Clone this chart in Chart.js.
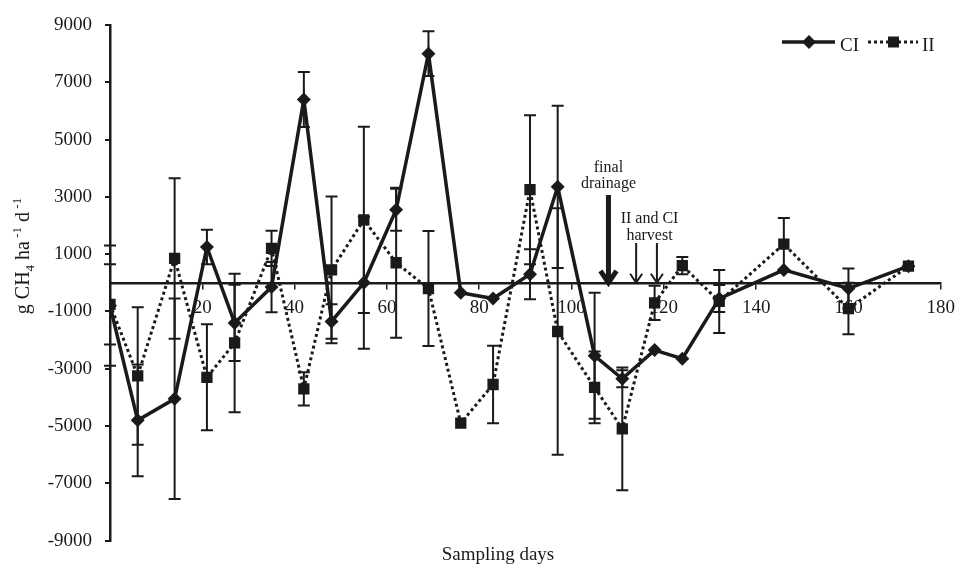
<!DOCTYPE html>
<html>
<head>
<meta charset="utf-8">
<title>CH4 flux</title>
<script src="https://cdn.jsdelivr.net/npm/chart.js@4.4.1/dist/chart.umd.min.js"></script>
<style>
  html, body { margin: 0; padding: 0; background: #fff; }
  canvas { display: block; }
</style>
</head>
<body>
<canvas id="flux" width="964" height="565"></canvas>
<script>
// sampling days
const days = [0, 6, 14, 21, 27, 35, 42, 48, 55, 62, 69, 76, 83, 91, 97, 105, 111, 118, 124, 132, 146, 160, 173];

// CI: mean flux and error (g CH4 ha-1 d-1)
const ciFlux = [-800, -4800, -4050, 1250, -1400, -150, 6400, -1350, 0, 2550, 8000, -350, -550, 300, 3350, -2550, -3350, -2350, -2650, -550, 450, -200, 580];
const ciErr = [2100, 1950, 3500, 600, 1330, 875, 960, 600, 2300, 730, 780, 0, 0, 870, 2830, 2200, 300, 0, 0, 470, 0, 700, 0];

// II: mean flux and error
const iiFlux = [-750, -3250, 850, -3300, -2100, 1200, -3700, 450, 2200, 700, -200, -4900, -3550, 3250, -1700, -3650, -5100, -700, 600, -650, 1350, -900, 580];
const iiErr = [1400, 2400, 2800, 1850, 2420, 615, 580, 2560, 3250, 2620, 2010, 0, 1350, 2600, 4300, 1250, 2140, 600, 300, 1100, 910, 900, 0];

const xTicks = [20, 40, 60, 80, 100, 120, 140, 160, 180];
const yTicks = [-9000, -7000, -5000, -3000, -1000, 1000, 3000, 5000, 7000, 9000];

// field events marked with arrows
const drainageDay = 108;
const harvestDays = [114, 118.5];

const FONT = "'Liberation Serif', 'Times New Roman', serif";
const INK = '#1a1a1a';

function points(values) {
  return days.map((d, i) => ({x: d, y: values[i]}));
}

// vertical error bars with caps, under the lines and markers
const errorBars = {
  id: 'errorBars',
  beforeDatasetsDraw(chart) {
    const {ctx, scales: {x, y}} = chart;
    ctx.save();
    ctx.strokeStyle = INK;
    ctx.lineWidth = 2;
    [[ciFlux, ciErr], [iiFlux, iiErr]].forEach(([vals, errs]) => {
      days.forEach((d, i) => {
        if (!errs[i]) return;
        const px = x.getPixelForValue(d);
        const top = y.getPixelForValue(vals[i] + errs[i]);
        const bot = y.getPixelForValue(vals[i] - errs[i]);
        ctx.beginPath();
        ctx.moveTo(px, top); ctx.lineTo(px, bot);
        ctx.moveTo(px - 6, top); ctx.lineTo(px + 6, top);
        ctx.moveTo(px - 6, bot); ctx.lineTo(px + 6, bot);
        ctx.stroke();
      });
    });
    ctx.restore();
  }
};

function arrow(ctx, x, yTop, yTip, width, head) {
  ctx.lineWidth = width;
  ctx.beginPath();
  ctx.moveTo(x, yTop);
  ctx.lineTo(x, yTip - 2);
  ctx.moveTo(x - head, yTip - head * 1.5);
  ctx.lineTo(x, yTip);
  ctx.lineTo(x + head, yTip - head * 1.5);
  ctx.stroke();
}

// axis titles, legend and event labels
const decorations = {
  id: 'decorations',
  afterDraw(chart) {
    const {ctx, scales: {x, y}} = chart;
    ctx.save();
    ctx.fillStyle = INK;
    ctx.strokeStyle = INK;
    ctx.lineCap = 'butt';

    // y title with sub/superscripts, rotated
    const parts = [
      ['g CH', 0], ['4', 5], [' ha', 0], [' -1', -8], [' d', 0], [' -1', -8]
    ];
    const big = '20px ' + FONT, small = '13px ' + FONT;
    let total = 0;
    parts.forEach(([t, off]) => {
      ctx.font = off ? small : big;
      total += ctx.measureText(t).width;
    });
    ctx.save();
    ctx.translate(29, 256);
    ctx.rotate(-Math.PI / 2);
    ctx.textBaseline = 'alphabetic';
    let cx = -total / 2;
    parts.forEach(([t, off]) => {
      ctx.font = off ? small : big;
      ctx.fillText(t, cx, off);
      cx += ctx.measureText(t).width;
    });
    ctx.restore();

    // x title
    ctx.font = '19px ' + FONT;
    ctx.textAlign = 'center';
    ctx.textBaseline = 'alphabetic';
    ctx.fillText('Sampling days', 498, 560);

    // legend
    const ly = 42;
    ctx.lineWidth = 3.5;
    ctx.beginPath();
    ctx.moveTo(782, ly); ctx.lineTo(835, ly);
    ctx.stroke();
    ctx.beginPath();
    ctx.moveTo(809, ly - 7); ctx.lineTo(816, ly); ctx.lineTo(809, ly + 7); ctx.lineTo(802, ly);
    ctx.closePath();
    ctx.fill();
    ctx.textAlign = 'left';
    ctx.fillText('CI', 840, 51);
    ctx.lineWidth = 3;
    ctx.setLineDash([3, 3]);
    ctx.beginPath();
    ctx.moveTo(868, ly); ctx.lineTo(918, ly);
    ctx.stroke();
    ctx.setLineDash([]);
    ctx.fillRect(888, ly - 5.5, 11, 11);
    ctx.fillText('II', 922, 51);

    // drainage and harvest arrows
    const zero = y.getPixelForValue(0);
    const dx = x.getPixelForValue(drainageDay);
    arrow(ctx, dx, 195, zero, 5, 8);
    harvestDays.forEach(d => arrow(ctx, x.getPixelForValue(d), 243, zero, 2, 6));

    ctx.font = '16px ' + FONT;
    ctx.textAlign = 'center';
    ctx.fillText('final', dx, 172);
    ctx.fillText('drainage', dx, 188);
    const hx = (x.getPixelForValue(harvestDays[0]) + x.getPixelForValue(harvestDays[1])) / 2 + 3;
    ctx.fillText('II and CI', hx, 223);
    ctx.fillText('harvest', hx, 240);
    ctx.restore();
  }
};

new Chart(document.getElementById('flux'), {
  type: 'line',
  data: {
    datasets: [
      {
        label: 'CI',
        data: points(ciFlux),
        borderColor: INK,
        backgroundColor: INK,
        borderWidth: 3.5,
        pointStyle: 'rectRot',
        pointRadius: 7,
        pointBorderWidth: 0,
        tension: 0
      },
      {
        label: 'II',
        data: points(iiFlux),
        borderColor: INK,
        backgroundColor: INK,
        borderWidth: 3,
        borderDash: [3, 3],
        pointStyle: 'rect',
        pointRadius: 8,
        pointBorderWidth: 0,
        tension: 0
      }
    ]
  },
  options: {
    responsive: false,
    animation: false,
    devicePixelRatio: 1,
    layout: {padding: {top: 25, right: 13, bottom: 24, left: 0}},
    plugins: {
      legend: {display: false},
      tooltip: {enabled: false}
    },
    scales: {
      x: {
        type: 'linear',
        position: {y: 0},
        min: 0,
        max: 180,
        afterBuildTicks: s => { s.ticks = xTicks.map(v => ({value: v})); },
        grid: {drawOnChartArea: false, drawTicks: true, tickLength: 5, color: INK, lineWidth: 1.5},
        border: {display: true, color: INK, width: 2.5},
        ticks: {color: INK, font: {family: FONT, size: 19}, padding: 9, maxRotation: 0, callback: v => String(v)}
      },
      y: {
        min: -9000,
        max: 9000,
        afterBuildTicks: s => { s.ticks = yTicks.map(v => ({value: v})); },
        afterFit: s => { s.width = 110; },
        grid: {drawOnChartArea: false, drawTicks: true, tickLength: 5, color: INK, lineWidth: 2},
        border: {display: true, color: INK, width: 2.5},
        ticks: {color: INK, font: {family: FONT, size: 19}, padding: 13, callback: v => String(v)}
      }
    }
  },
  plugins: [errorBars, decorations]
});
</script>
</body>
</html>
